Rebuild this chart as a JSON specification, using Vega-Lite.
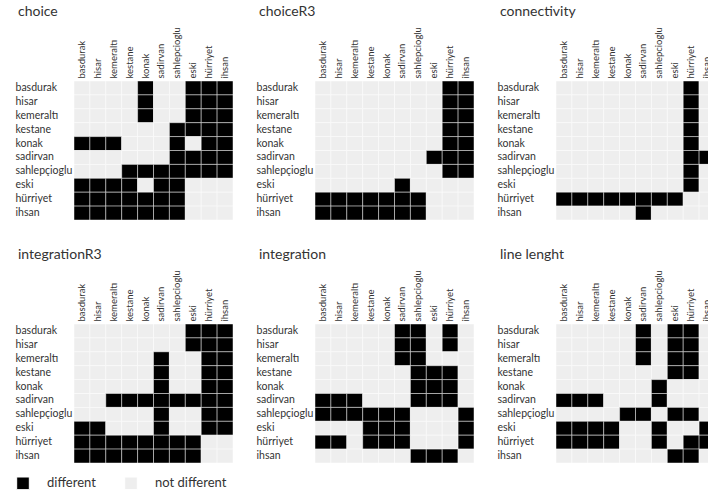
{
  "$schema": "https://vega.github.io/schema/vega-lite/v6.json",
  "padding": {"left": 15, "top": 4, "right": 0, "bottom": 0},
  "background": "#ffffff",
  "data": {"values": [
    {"panel":"choice","row":"basdurak","basdurak":0,"hisar":0,"kemeraltı":0,"kestane":0,"konak":1,"sadirvan":0,"sahlepcioglu":0,"eski":1,"hürriyet":1,"ihsan":1},
    {"panel":"choice","row":"hisar","basdurak":0,"hisar":0,"kemeraltı":0,"kestane":0,"konak":1,"sadirvan":0,"sahlepcioglu":0,"eski":1,"hürriyet":1,"ihsan":1},
    {"panel":"choice","row":"kemeraltı","basdurak":0,"hisar":0,"kemeraltı":0,"kestane":0,"konak":1,"sadirvan":0,"sahlepcioglu":0,"eski":1,"hürriyet":1,"ihsan":1},
    {"panel":"choice","row":"kestane","basdurak":0,"hisar":0,"kemeraltı":0,"kestane":0,"konak":0,"sadirvan":0,"sahlepcioglu":1,"eski":1,"hürriyet":1,"ihsan":1},
    {"panel":"choice","row":"konak","basdurak":1,"hisar":1,"kemeraltı":1,"kestane":0,"konak":0,"sadirvan":0,"sahlepcioglu":1,"eski":0,"hürriyet":1,"ihsan":1},
    {"panel":"choice","row":"sadirvan","basdurak":0,"hisar":0,"kemeraltı":0,"kestane":0,"konak":0,"sadirvan":0,"sahlepcioglu":1,"eski":1,"hürriyet":1,"ihsan":1},
    {"panel":"choice","row":"sahlepçioglu","basdurak":0,"hisar":0,"kemeraltı":0,"kestane":1,"konak":1,"sadirvan":1,"sahlepcioglu":1,"eski":1,"hürriyet":1,"ihsan":1},
    {"panel":"choice","row":"eski","basdurak":1,"hisar":1,"kemeraltı":1,"kestane":1,"konak":0,"sadirvan":1,"sahlepcioglu":1,"eski":0,"hürriyet":0,"ihsan":0},
    {"panel":"choice","row":"hürriyet","basdurak":1,"hisar":1,"kemeraltı":1,"kestane":1,"konak":1,"sadirvan":1,"sahlepcioglu":1,"eski":0,"hürriyet":0,"ihsan":0},
    {"panel":"choice","row":"ihsan","basdurak":1,"hisar":1,"kemeraltı":1,"kestane":1,"konak":1,"sadirvan":1,"sahlepcioglu":1,"eski":0,"hürriyet":0,"ihsan":0},

    {"panel":"choiceR3","row":"basdurak","basdurak":0,"hisar":0,"kemeraltı":0,"kestane":0,"konak":0,"sadirvan":0,"sahlepcioglu":0,"eski":0,"hürriyet":1,"ihsan":1},
    {"panel":"choiceR3","row":"hisar","basdurak":0,"hisar":0,"kemeraltı":0,"kestane":0,"konak":0,"sadirvan":0,"sahlepcioglu":0,"eski":0,"hürriyet":1,"ihsan":1},
    {"panel":"choiceR3","row":"kemeraltı","basdurak":0,"hisar":0,"kemeraltı":0,"kestane":0,"konak":0,"sadirvan":0,"sahlepcioglu":0,"eski":0,"hürriyet":1,"ihsan":1},
    {"panel":"choiceR3","row":"kestane","basdurak":0,"hisar":0,"kemeraltı":0,"kestane":0,"konak":0,"sadirvan":0,"sahlepcioglu":0,"eski":0,"hürriyet":1,"ihsan":1},
    {"panel":"choiceR3","row":"konak","basdurak":0,"hisar":0,"kemeraltı":0,"kestane":0,"konak":0,"sadirvan":0,"sahlepcioglu":0,"eski":0,"hürriyet":1,"ihsan":1},
    {"panel":"choiceR3","row":"sadirvan","basdurak":0,"hisar":0,"kemeraltı":0,"kestane":0,"konak":0,"sadirvan":0,"sahlepcioglu":0,"eski":1,"hürriyet":1,"ihsan":1},
    {"panel":"choiceR3","row":"sahlepçioglu","basdurak":0,"hisar":0,"kemeraltı":0,"kestane":0,"konak":0,"sadirvan":0,"sahlepcioglu":0,"eski":0,"hürriyet":1,"ihsan":1},
    {"panel":"choiceR3","row":"eski","basdurak":0,"hisar":0,"kemeraltı":0,"kestane":0,"konak":0,"sadirvan":1,"sahlepcioglu":0,"eski":0,"hürriyet":0,"ihsan":0},
    {"panel":"choiceR3","row":"hürriyet","basdurak":1,"hisar":1,"kemeraltı":1,"kestane":1,"konak":1,"sadirvan":1,"sahlepcioglu":1,"eski":0,"hürriyet":0,"ihsan":0},
    {"panel":"choiceR3","row":"ihsan","basdurak":1,"hisar":1,"kemeraltı":1,"kestane":1,"konak":1,"sadirvan":1,"sahlepcioglu":1,"eski":0,"hürriyet":0,"ihsan":0},

    {"panel":"connectivity","row":"basdurak","basdurak":0,"hisar":0,"kemeraltı":0,"kestane":0,"konak":0,"sadirvan":0,"sahlepcioglu":0,"eski":0,"hürriyet":1,"ihsan":0},
    {"panel":"connectivity","row":"hisar","basdurak":0,"hisar":0,"kemeraltı":0,"kestane":0,"konak":0,"sadirvan":0,"sahlepcioglu":0,"eski":0,"hürriyet":1,"ihsan":0},
    {"panel":"connectivity","row":"kemeraltı","basdurak":0,"hisar":0,"kemeraltı":0,"kestane":0,"konak":0,"sadirvan":0,"sahlepcioglu":0,"eski":0,"hürriyet":1,"ihsan":0},
    {"panel":"connectivity","row":"kestane","basdurak":0,"hisar":0,"kemeraltı":0,"kestane":0,"konak":0,"sadirvan":0,"sahlepcioglu":0,"eski":0,"hürriyet":1,"ihsan":0},
    {"panel":"connectivity","row":"konak","basdurak":0,"hisar":0,"kemeraltı":0,"kestane":0,"konak":0,"sadirvan":0,"sahlepcioglu":0,"eski":0,"hürriyet":1,"ihsan":0},
    {"panel":"connectivity","row":"sadirvan","basdurak":0,"hisar":0,"kemeraltı":0,"kestane":0,"konak":0,"sadirvan":0,"sahlepcioglu":0,"eski":0,"hürriyet":1,"ihsan":1},
    {"panel":"connectivity","row":"sahlepçioglu","basdurak":0,"hisar":0,"kemeraltı":0,"kestane":0,"konak":0,"sadirvan":0,"sahlepcioglu":0,"eski":0,"hürriyet":1,"ihsan":0},
    {"panel":"connectivity","row":"eski","basdurak":0,"hisar":0,"kemeraltı":0,"kestane":0,"konak":0,"sadirvan":0,"sahlepcioglu":0,"eski":0,"hürriyet":1,"ihsan":0},
    {"panel":"connectivity","row":"hürriyet","basdurak":1,"hisar":1,"kemeraltı":1,"kestane":1,"konak":1,"sadirvan":1,"sahlepcioglu":1,"eski":1,"hürriyet":0,"ihsan":0},
    {"panel":"connectivity","row":"ihsan","basdurak":0,"hisar":0,"kemeraltı":0,"kestane":0,"konak":0,"sadirvan":1,"sahlepcioglu":0,"eski":0,"hürriyet":0,"ihsan":0},

    {"panel":"integrationR3","row":"basdurak","basdurak":0,"hisar":0,"kemeraltı":0,"kestane":0,"konak":0,"sadirvan":0,"sahlepcioglu":0,"eski":1,"hürriyet":1,"ihsan":1},
    {"panel":"integrationR3","row":"hisar","basdurak":0,"hisar":0,"kemeraltı":0,"kestane":0,"konak":0,"sadirvan":0,"sahlepcioglu":0,"eski":1,"hürriyet":1,"ihsan":1},
    {"panel":"integrationR3","row":"kemeraltı","basdurak":0,"hisar":0,"kemeraltı":0,"kestane":0,"konak":0,"sadirvan":1,"sahlepcioglu":0,"eski":0,"hürriyet":1,"ihsan":1},
    {"panel":"integrationR3","row":"kestane","basdurak":0,"hisar":0,"kemeraltı":0,"kestane":0,"konak":0,"sadirvan":1,"sahlepcioglu":0,"eski":0,"hürriyet":1,"ihsan":1},
    {"panel":"integrationR3","row":"konak","basdurak":0,"hisar":0,"kemeraltı":0,"kestane":0,"konak":0,"sadirvan":1,"sahlepcioglu":0,"eski":0,"hürriyet":1,"ihsan":1},
    {"panel":"integrationR3","row":"sadirvan","basdurak":0,"hisar":0,"kemeraltı":1,"kestane":1,"konak":1,"sadirvan":1,"sahlepcioglu":1,"eski":1,"hürriyet":1,"ihsan":1},
    {"panel":"integrationR3","row":"sahlepçioglu","basdurak":0,"hisar":0,"kemeraltı":0,"kestane":0,"konak":0,"sadirvan":1,"sahlepcioglu":0,"eski":0,"hürriyet":1,"ihsan":1},
    {"panel":"integrationR3","row":"eski","basdurak":1,"hisar":1,"kemeraltı":0,"kestane":0,"konak":0,"sadirvan":1,"sahlepcioglu":0,"eski":0,"hürriyet":1,"ihsan":1},
    {"panel":"integrationR3","row":"hürriyet","basdurak":1,"hisar":1,"kemeraltı":1,"kestane":1,"konak":1,"sadirvan":1,"sahlepcioglu":1,"eski":1,"hürriyet":0,"ihsan":0},
    {"panel":"integrationR3","row":"ihsan","basdurak":1,"hisar":1,"kemeraltı":1,"kestane":1,"konak":1,"sadirvan":1,"sahlepcioglu":1,"eski":1,"hürriyet":0,"ihsan":0},

    {"panel":"integration","row":"basdurak","basdurak":0,"hisar":0,"kemeraltı":0,"kestane":0,"konak":0,"sadirvan":1,"sahlepcioglu":1,"eski":0,"hürriyet":1,"ihsan":0},
    {"panel":"integration","row":"hisar","basdurak":0,"hisar":0,"kemeraltı":0,"kestane":0,"konak":0,"sadirvan":1,"sahlepcioglu":1,"eski":0,"hürriyet":1,"ihsan":0},
    {"panel":"integration","row":"kemeraltı","basdurak":0,"hisar":0,"kemeraltı":0,"kestane":0,"konak":0,"sadirvan":1,"sahlepcioglu":1,"eski":0,"hürriyet":0,"ihsan":0},
    {"panel":"integration","row":"kestane","basdurak":0,"hisar":0,"kemeraltı":0,"kestane":0,"konak":0,"sadirvan":0,"sahlepcioglu":1,"eski":1,"hürriyet":1,"ihsan":0},
    {"panel":"integration","row":"konak","basdurak":0,"hisar":0,"kemeraltı":0,"kestane":0,"konak":0,"sadirvan":0,"sahlepcioglu":1,"eski":1,"hürriyet":1,"ihsan":0},
    {"panel":"integration","row":"sadirvan","basdurak":1,"hisar":1,"kemeraltı":1,"kestane":0,"konak":0,"sadirvan":0,"sahlepcioglu":1,"eski":1,"hürriyet":1,"ihsan":0},
    {"panel":"integration","row":"sahlepçioglu","basdurak":1,"hisar":1,"kemeraltı":1,"kestane":1,"konak":1,"sadirvan":1,"sahlepcioglu":0,"eski":0,"hürriyet":0,"ihsan":1},
    {"panel":"integration","row":"eski","basdurak":0,"hisar":0,"kemeraltı":0,"kestane":1,"konak":1,"sadirvan":1,"sahlepcioglu":0,"eski":0,"hürriyet":0,"ihsan":1},
    {"panel":"integration","row":"hürriyet","basdurak":1,"hisar":1,"kemeraltı":0,"kestane":1,"konak":1,"sadirvan":1,"sahlepcioglu":0,"eski":0,"hürriyet":0,"ihsan":1},
    {"panel":"integration","row":"ihsan","basdurak":0,"hisar":0,"kemeraltı":0,"kestane":0,"konak":0,"sadirvan":0,"sahlepcioglu":1,"eski":1,"hürriyet":1,"ihsan":0},

    {"panel":"line lenght","row":"basdurak","basdurak":0,"hisar":0,"kemeraltı":0,"kestane":0,"konak":0,"sadirvan":1,"sahlepcioglu":0,"eski":1,"hürriyet":1,"ihsan":0},
    {"panel":"line lenght","row":"hisar","basdurak":0,"hisar":0,"kemeraltı":0,"kestane":0,"konak":0,"sadirvan":1,"sahlepcioglu":0,"eski":1,"hürriyet":1,"ihsan":0},
    {"panel":"line lenght","row":"kemeraltı","basdurak":0,"hisar":0,"kemeraltı":0,"kestane":0,"konak":0,"sadirvan":1,"sahlepcioglu":0,"eski":1,"hürriyet":1,"ihsan":0},
    {"panel":"line lenght","row":"kestane","basdurak":0,"hisar":0,"kemeraltı":0,"kestane":0,"konak":0,"sadirvan":0,"sahlepcioglu":0,"eski":1,"hürriyet":1,"ihsan":0},
    {"panel":"line lenght","row":"konak","basdurak":0,"hisar":0,"kemeraltı":0,"kestane":0,"konak":0,"sadirvan":0,"sahlepcioglu":1,"eski":0,"hürriyet":0,"ihsan":0},
    {"panel":"line lenght","row":"sadirvan","basdurak":1,"hisar":1,"kemeraltı":1,"kestane":0,"konak":0,"sadirvan":0,"sahlepcioglu":1,"eski":0,"hürriyet":0,"ihsan":0},
    {"panel":"line lenght","row":"sahlepçioglu","basdurak":0,"hisar":0,"kemeraltı":0,"kestane":0,"konak":1,"sadirvan":1,"sahlepcioglu":0,"eski":1,"hürriyet":1,"ihsan":0},
    {"panel":"line lenght","row":"eski","basdurak":1,"hisar":1,"kemeraltı":1,"kestane":1,"konak":0,"sadirvan":0,"sahlepcioglu":1,"eski":0,"hürriyet":0,"ihsan":1},
    {"panel":"line lenght","row":"hürriyet","basdurak":1,"hisar":1,"kemeraltı":1,"kestane":1,"konak":0,"sadirvan":0,"sahlepcioglu":1,"eski":0,"hürriyet":1,"ihsan":1},
    {"panel":"line lenght","row":"ihsan","basdurak":0,"hisar":0,"kemeraltı":0,"kestane":0,"konak":0,"sadirvan":0,"sahlepcioglu":0,"eski":1,"hürriyet":1,"ihsan":0}
  ]},
  "transform": [
    {"fold": ["basdurak","hisar","kemeraltı","kestane","konak","sadirvan","sahlepcioglu","eski","hürriyet","ihsan"], "as": ["col","diff"]}
  ],
  "columns": 3,
  "spacing": {"column": 22, "row": 26},
  "concat": [
    {"title": "choice", "width": 159, "height": 139,
     "transform": [{"filter": "datum.panel === 'choice'"}],
     "mark": {"type": "rect", "stroke": "#ffffff", "strokeWidth": 1, "strokeOpacity": 0.45},
     "encoding": {
       "x": {"field": "col", "type": "nominal", "sort": ["basdurak","hisar","kemeraltı","kestane","konak","sadirvan","sahlepcioglu","eski","hürriyet","ihsan"], "axis": {"orient": "top", "title": null}},
       "y": {"field": "row", "type": "nominal", "sort": ["basdurak","hisar","kemeraltı","kestane","konak","sadirvan","sahlepçioglu","eski","hürriyet","ihsan"], "axis": {"title": null}},
       "color": {"field": "diff", "type": "nominal", "scale": {"domain": [1, 0], "range": ["#000000", "#eeeeee"]},
         "legend": {"title": null, "orient": "none", "legendX": -58, "legendY": 395, "direction": "horizontal", "symbolType": "square", "symbolSize": 160, "symbolStrokeColor": "#a0a0a0", "symbolStrokeWidth": 1, "labelFontSize": 13, "labelFont": "Lato", "labelColor": "#333333", "labelOffset": 17, "columnPadding": 26, "labelExpr": "datum.label == '1' ? 'different' : 'not different'"}}
     }},
    {"title": "choiceR3", "width": 159, "height": 139,
     "transform": [{"filter": "datum.panel === 'choiceR3'"}],
     "mark": {"type": "rect", "stroke": "#ffffff", "strokeWidth": 1, "strokeOpacity": 0.45},
     "encoding": {
       "x": {"field": "col", "type": "nominal", "sort": ["basdurak","hisar","kemeraltı","kestane","konak","sadirvan","sahlepcioglu","eski","hürriyet","ihsan"], "axis": {"orient": "top", "title": null}},
       "y": {"field": "row", "type": "nominal", "sort": ["basdurak","hisar","kemeraltı","kestane","konak","sadirvan","sahlepçioglu","eski","hürriyet","ihsan"], "axis": {"title": null}},
       "color": {"field": "diff", "type": "nominal"}
     }},
    {"title": "connectivity", "width": 159, "height": 139,
     "transform": [{"filter": "datum.panel === 'connectivity'"}],
     "mark": {"type": "rect", "stroke": "#ffffff", "strokeWidth": 1, "strokeOpacity": 0.45},
     "encoding": {
       "x": {"field": "col", "type": "nominal", "sort": ["basdurak","hisar","kemeraltı","kestane","konak","sadirvan","sahlepcioglu","eski","hürriyet","ihsan"], "axis": {"orient": "top", "title": null}},
       "y": {"field": "row", "type": "nominal", "sort": ["basdurak","hisar","kemeraltı","kestane","konak","sadirvan","sahlepçioglu","eski","hürriyet","ihsan"], "axis": {"title": null}},
       "color": {"field": "diff", "type": "nominal"}
     }},
    {"title": "integrationR3", "width": 159, "height": 139,
     "transform": [{"filter": "datum.panel === 'integrationR3'"}],
     "mark": {"type": "rect", "stroke": "#ffffff", "strokeWidth": 1, "strokeOpacity": 0.45},
     "encoding": {
       "x": {"field": "col", "type": "nominal", "sort": ["basdurak","hisar","kemeraltı","kestane","konak","sadirvan","sahlepcioglu","eski","hürriyet","ihsan"], "axis": {"orient": "top", "title": null}},
       "y": {"field": "row", "type": "nominal", "sort": ["basdurak","hisar","kemeraltı","kestane","konak","sadirvan","sahlepçioglu","eski","hürriyet","ihsan"], "axis": {"title": null}},
       "color": {"field": "diff", "type": "nominal"}
     }},
    {"title": "integration", "width": 159, "height": 139,
     "transform": [{"filter": "datum.panel === 'integration'"}],
     "mark": {"type": "rect", "stroke": "#ffffff", "strokeWidth": 1, "strokeOpacity": 0.45},
     "encoding": {
       "x": {"field": "col", "type": "nominal", "sort": ["basdurak","hisar","kemeraltı","kestane","konak","sadirvan","sahlepcioglu","eski","hürriyet","ihsan"], "axis": {"orient": "top", "title": null}},
       "y": {"field": "row", "type": "nominal", "sort": ["basdurak","hisar","kemeraltı","kestane","konak","sadirvan","sahlepçioglu","eski","hürriyet","ihsan"], "axis": {"title": null}},
       "color": {"field": "diff", "type": "nominal"}
     }},
    {"title": "line lenght", "width": 159, "height": 139,
     "transform": [{"filter": "datum.panel === 'line lenght'"}],
     "mark": {"type": "rect", "stroke": "#ffffff", "strokeWidth": 1, "strokeOpacity": 0.45},
     "encoding": {
       "x": {"field": "col", "type": "nominal", "sort": ["basdurak","hisar","kemeraltı","kestane","konak","sadirvan","sahlepcioglu","eski","hürriyet","ihsan"], "axis": {"orient": "top", "title": null}},
       "y": {"field": "row", "type": "nominal", "sort": ["basdurak","hisar","kemeraltı","kestane","konak","sadirvan","sahlepçioglu","eski","hürriyet","ihsan"], "axis": {"title": null}},
       "color": {"field": "diff", "type": "nominal"}
     }}
  ],
  "config": {
    "view": {"stroke": null},
    "font": "Lato",
    "axis": {"domain": false, "ticks": false, "grid": false, "labelFont": "Lato", "labelColor": "#333333"},
    "axisX": {"labelAngle": -90, "labelFontSize": 9.5, "labelPadding": 3},
    "axisY": {"labelAlign": "left", "labelPadding": 59, "labelFontSize": 10.5},
    "title": {"font": "Lato", "fontSize": 14, "fontWeight": "normal", "color": "#333333", "anchor": "start", "frame": "bounds", "offset": 8, "dx": 3}
  }
}
